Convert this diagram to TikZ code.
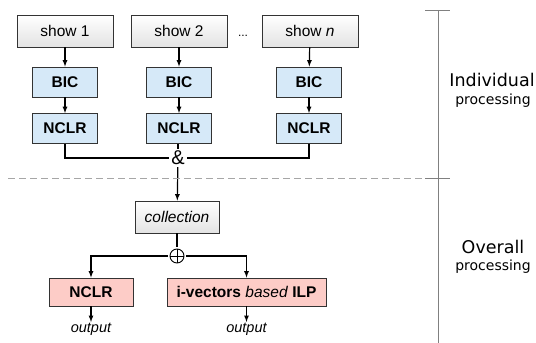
\documentclass[tikz,border=0pt]{standalone}
\usepackage{fontspec}
\setmainfont{Liberation Sans}
\newfontfamily\sidefont{DejaVu Sans}
\usetikzlibrary{arrows}
\definecolor{bicblue}{HTML}{D6E9F8}
\definecolor{outred}{HTML}{FDCCC7}
\definecolor{edgegray}{HTML}{333333}
\tikzset{
  >=latex,
  box/.style={draw=edgegray, line width=0.8pt, inner sep=0pt, minimum height=30pt,
    font=\fontsize{15.5}{18}\selectfont},
  showbox/.style={box, minimum width=96pt, minimum height=32pt, top color=white, bottom color=gray!22},
  stagebox/.style={box, minimum width=65pt, fill=bicblue, font=\fontsize{15.5}{18}\selectfont\bfseries},
  finalbox/.style={box, minimum height=28pt, fill=outred, font=\fontsize{15.5}{18}\selectfont\bfseries},
  flow/.style={line width=1.2pt, draw=black},
  oplusnode/.style={circle, draw, line width=0.9pt, minimum size=14pt, inner sep=0pt, outer sep=2pt,
    path picture={\draw[line width=0.9pt]
      (path picture bounding box.north) -- (path picture bounding box.south)
      (path picture bounding box.west) -- (path picture bounding box.east);}},
  sidelabel/.style={font=\sidefont\fontsize{17.5}{20}\selectfont},
  sidesub/.style={font=\sidefont\fontsize{14}{16}\selectfont},
}
\begin{document}
\begin{tikzpicture}[x=1pt, y=-1pt]
\useasboundingbox (0,0) rectangle (536,343);
% individual processing
\node[showbox](show1) at (65,31) {show 1};
\node[showbox](show2) at (179,31) {show 2};
\node[showbox](shown) at (310,31) {show \textit{n}};
\node(dots) at (243,36) {\fontsize{12}{14}\selectfont ...};
\node[stagebox](bic1) at (65,82) {BIC};
\node[stagebox](bic2) at (179,82) {BIC};
\node[stagebox](bicn) at (309,82) {BIC};
\node[stagebox](nclr1) at (65,128.5) {NCLR};
\node[stagebox](nclr2) at (179,128.5) {NCLR};
\node[stagebox](nclrn) at (309,128.5) {NCLR};
\node[inner sep=2pt, font=\fontsize{20}{22}\selectfont](amp) at (178,158) {\&};
%
\draw[flow,->](show1) -- (bic1);
\draw[flow,->](show2) -- (bic2);
\draw[flow,->](shown) -- (bicn);
\draw[flow,->](bic1) -- (nclr1);
\draw[flow,->](bic2) -- (nclr2);
\draw[flow,->](bicn) -- (nclrn);
\draw[flow](nclr1) |- (amp);
\draw[flow](nclrn) |- (amp);
\draw[flow](nclr2.south -| amp) -- (amp);
% overall processing
\node[showbox, minimum width=84pt, font=\fontsize{15.5}{18}\selectfont\itshape](coll) at (177,217) {collection};
\node[oplusnode](plus) at (177,256) {};
\node[finalbox, minimum width=84pt](nclrall) at (91,292) {NCLR};
\node[finalbox, minimum width=159pt](ilp) at (246.5,292) {i-vectors \textit{\mdseries based} ILP};
\node[inner sep=1pt, anchor=north, font=\fontsize{14.5}{16}\selectfont\itshape](out1) at (91,322) {output};
\node[inner sep=1pt, anchor=north, font=\fontsize{14.5}{16}\selectfont\itshape](out2) at (246.5,322) {output};
%
\draw[flow,->](amp) -- (coll);
\draw[flow](coll) -- (plus);
\draw[flow,->](plus) -| (nclrall);
\draw[flow,->](plus) -| (ilp);
\draw[flow,->](nclrall) -- (out1);
\draw[flow,->](ilp) -- (out2);
% separators
\coordinate(sepl) at (8,178);
\coordinate(sepr) at (425,178);
\coordinate(scaletop) at (438,10);
\coordinate(scalebot) at (438,343);
\draw[gray!70, line width=1pt, dashed, dash pattern=on 7pt off 4pt](sepl) -- (sepr);
\draw[gray, line width=1pt](scaletop) -- (scalebot);
\draw[gray, line width=1pt](425,10) -- (450,10);
\draw[gray, line width=1pt](425,178) -- (450,178);
\node[sidelabel](indiv) at (492,80) {Individual};
\node[sidesub](indivsub) at (493,101) {processing};
\node[sidelabel](overall) at (493,247) {Overall};
\node[sidesub](overallsub) at (493,267) {processing};
\end{tikzpicture}
\end{document}
